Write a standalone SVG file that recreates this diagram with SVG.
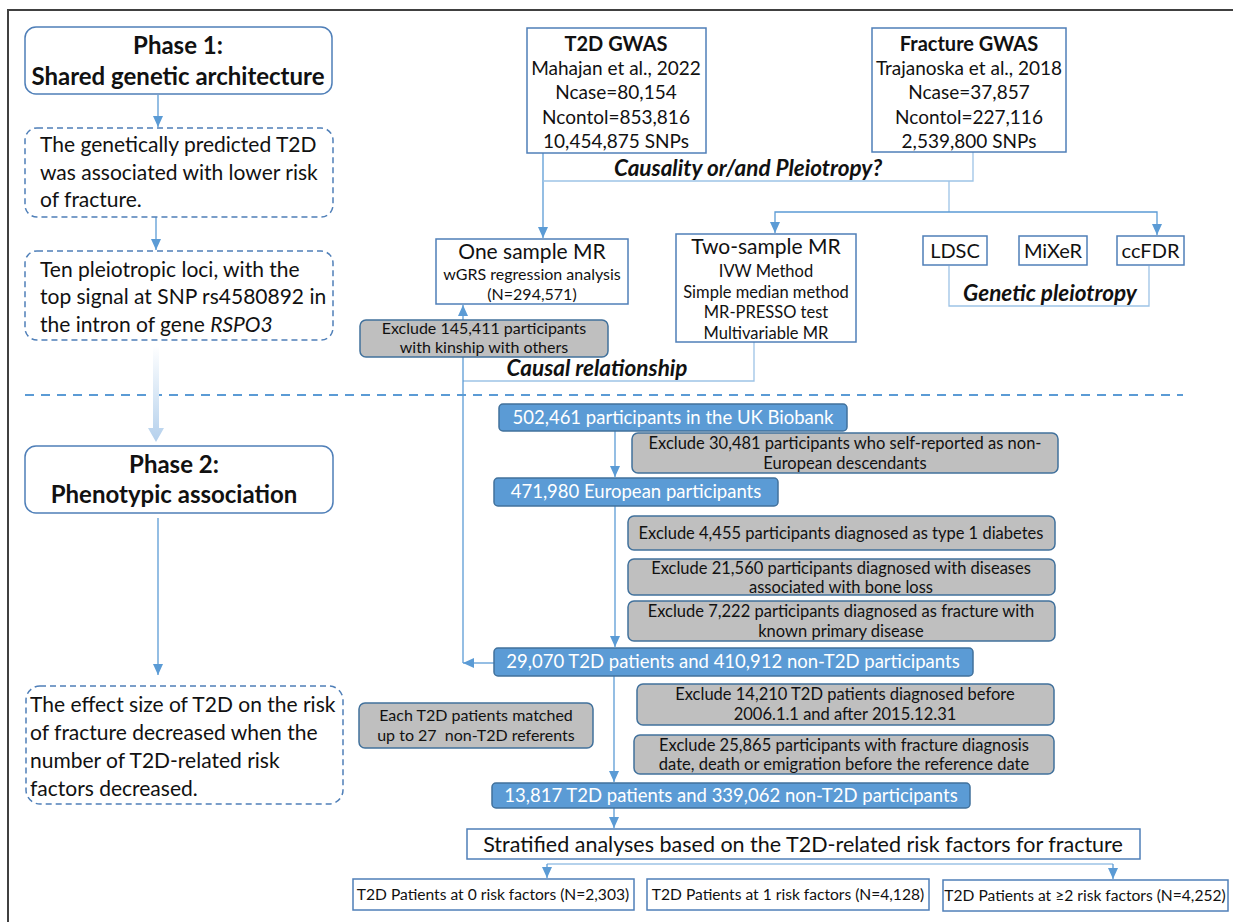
<svg xmlns="http://www.w3.org/2000/svg" width="1233" height="922" viewBox="0 0 1233 922">
<style>
.t{font-family:Lato,"Open Sans","Liberation Sans",sans-serif;fill:#111}
.c{text-anchor:middle}
.b{font-weight:bold}
.bi{font-weight:bold;font-style:italic}
.w{fill:#fff}
.g{font-size:16.5px}
.box{fill:#fff;stroke:#4f7fb8;stroke-width:1.5}
.dbox{fill:#fff;stroke:#4f7fb8;stroke-width:1.5;stroke-dasharray:6,4}
.gray{fill:#bfbfbf;stroke:#41719c;stroke-width:1.5}
.blue{fill:#5b9bd5;stroke:#41719c;stroke-width:1.5}
.conn{fill:none;stroke:#5b9bd5;stroke-width:1.3}
.lt{stroke:#9dc3e6}
</style>
<defs>
<marker id="ah" markerUnits="userSpaceOnUse" markerWidth="12" markerHeight="12" viewBox="0 0 12 12" refX="11" refY="6" orient="auto">
<path d="M0,1 L11,6 L0,11 Z" fill="#5b9bd5"/>
</marker>
<linearGradient id="pg" gradientUnits="userSpaceOnUse" x1="0" y1="346" x2="0" y2="442">
<stop offset="0" stop-color="#ffffff"/>
<stop offset="1" stop-color="#b4d0ec"/>
</linearGradient>
</defs>

<path d="M8,922 V10 H1233" fill="none" stroke="#404040" stroke-width="2"/>
<line x1="25" y1="395" x2="1183" y2="395" stroke="#5b9bd5" stroke-width="2" stroke-dasharray="9,7"/>

<g id="connectors">
<path class="conn" d="M158,95 V127" marker-end="url(#ah)"/>
<path class="conn" d="M156,217 V250" marker-end="url(#ah)"/>
<path d="M153,346 H159 V428 H164 L156,442 L148,428 H153 Z" fill="url(#pg)"/>
<path class="conn" d="M158,518 V675" marker-end="url(#ah)"/>
<path class="conn" d="M543,153 V238" marker-end="url(#ah)"/>
<path class="conn lt" d="M543,181 H973 V152"/>
<path class="conn lt" d="M949,181 V212"/>
<path class="conn" d="M949,212 H775 V233" marker-end="url(#ah)"/>
<path class="conn" d="M949,212 H1157 V235" marker-end="url(#ah)"/>
<path class="conn lt" d="M949,266 V306 H1149 V266"/>
<path class="conn lt" d="M754,342 V381 H463"/>
<path class="conn" d="M463,663 V305" marker-end="url(#ah)"/>
<path class="conn" d="M494,663 H463" marker-end="url(#ah)"/>
<path class="conn" d="M615,431 V477" marker-end="url(#ah)"/>
<path class="conn" d="M615,506 V647" marker-end="url(#ah)"/>
<path class="conn" d="M614,676 V782" marker-end="url(#ah)"/>
<path class="conn" d="M614,808 V828" marker-end="url(#ah)"/>
<path class="conn lt" d="M547,864 H1113"/>
<path class="conn" d="M547,864 V878" marker-end="url(#ah)"/>
<path class="conn" d="M1113,864 V879" marker-end="url(#ah)"/>
</g>

<g id="phase1">
<rect class="box" x="25" y="27" width="307" height="67" rx="11"/>
<text class="t c b" x="178" y="54" font-size="24">Phase 1:</text>
<text class="t c b" x="178" y="85" font-size="24">Shared genetic architecture</text>
</g>
<g id="finding1">
<rect class="dbox" x="25" y="128" width="308" height="89" rx="12"/>
<text class="t" x="40" y="152" font-size="21">The genetically predicted T2D</text>
<text class="t" x="40" y="180" font-size="21">was associated with lower risk</text>
<text class="t" x="40" y="207" font-size="21">of fracture.</text>
</g>
<g id="finding2">
<rect class="dbox" x="25" y="251" width="308" height="89" rx="12"/>
<text class="t" x="40" y="277" font-size="21">Ten pleiotropic loci, with the</text>
<text class="t" x="40" y="304" font-size="21">top signal at SNP rs4580892 in</text>
<text class="t" x="40" y="332" font-size="21">the intron of gene <tspan font-style="italic">RSPO3</tspan></text>
</g>
<g id="phase2">
<rect class="box" x="25" y="446" width="308" height="67" rx="11"/>
<text class="t c b" x="174" y="473" font-size="24">Phase 2:</text>
<text class="t c b" x="174" y="503" font-size="24">Phenotypic association</text>
</g>
<g id="finding3">
<rect class="dbox" x="26" y="686" width="317" height="118" rx="14"/>
<text class="t" x="30" y="712" font-size="21">The effect size of T2D on the risk</text>
<text class="t" x="30" y="740" font-size="21">of fracture decreased when the</text>
<text class="t" x="30" y="768" font-size="21">number of T2D-related risk</text>
<text class="t" x="30" y="796" font-size="21">factors decreased.</text>
</g>

<g id="t2dgwas">
<rect class="box" x="527" y="28" width="179" height="125"/>
<text class="t c b" x="616" y="51" font-size="20">T2D GWAS</text>
<text class="t c" x="616" y="75" font-size="19">Mahajan et al., 2022</text>
<text class="t c" x="616" y="99" font-size="19">Ncase=80,154</text>
<text class="t c" x="616" y="124" font-size="19">Ncontol=853,816</text>
<text class="t c" x="616" y="148" font-size="19">10,454,875 SNPs</text>
</g>
<g id="fracturegwas">
<rect class="box" x="872" y="28" width="194" height="124"/>
<text class="t c b" x="969" y="51" font-size="20">Fracture GWAS</text>
<text class="t c" x="969" y="75" font-size="19">Trajanoska et al., 2018</text>
<text class="t c" x="969" y="99" font-size="19">Ncase=37,857</text>
<text class="t c" x="969" y="124" font-size="19">Ncontol=227,116</text>
<text class="t c" x="969" y="148" font-size="19">2,539,800 SNPs</text>
</g>
<text class="t c bi" x="748" y="176" font-size="22.5">Causality or/and Pleiotropy?</text>

<g id="onesample">
<rect class="box" x="436" y="239" width="192" height="65"/>
<text class="t c" x="532" y="259" font-size="21">One sample MR</text>
<text class="t c" x="532" y="280" font-size="16">wGRS regression analysis</text>
<text class="t c" x="532" y="300" font-size="16">(N=294,571)</text>
</g>
<g id="twosample">
<rect class="box" x="676" y="234" width="180" height="108"/>
<text class="t c" x="766" y="254" font-size="21">Two-sample MR</text>
<text class="t c" x="766" y="277" font-size="16.5">IVW Method</text>
<text class="t c" x="766" y="298" font-size="16.5">Simple median method</text>
<text class="t c" x="766" y="318" font-size="16.5">MR-PRESSO test</text>
<text class="t c" x="766" y="339" font-size="16.5">Multivariable MR</text>
</g>
<g id="ldsc">
<rect class="box" x="923" y="236" width="64" height="29"/>
<text class="t c" x="955" y="258" font-size="20">LDSC</text>
</g>
<g id="mixer">
<rect class="box" x="1019" y="236" width="68" height="29"/>
<text class="t c" x="1053" y="258" font-size="20">MiXeR</text>
</g>
<g id="ccfdr">
<rect class="box" x="1117" y="236" width="67" height="29"/>
<text class="t c" x="1150.5" y="258" font-size="20">ccFDR</text>
</g>
<text class="t c bi" x="1050" y="301" font-size="22.5">Genetic pleiotropy</text>
<text class="t c bi" x="597" y="376" font-size="22.5">Causal relationship</text>

<g id="excl145">
<rect class="gray" x="360" y="320" width="248" height="37" rx="6"/>
<text class="t c" x="484" y="334" font-size="16">Exclude 145,411 participants</text>
<text class="t c" x="484" y="353" font-size="16">with kinship with others</text>
</g>

<g id="ukb">
<rect class="blue" x="499" y="404" width="348" height="27" rx="4"/>
<text class="t c w" x="673" y="424" font-size="18.5">502,461 participants in the UK Biobank</text>
</g>
<g id="excl30">
<rect class="gray" x="632" y="433" width="426" height="40" rx="6"/>
<text class="t c g" x="845" y="449">Exclude 30,481 participants who self-reported as non-</text>
<text class="t c g" x="845" y="469">European descendants</text>
</g>
<g id="euro">
<rect class="blue" x="494" y="478" width="284" height="28" rx="4"/>
<text class="t c w" x="636" y="498" font-size="18.5">471,980 European participants</text>
</g>
<g id="excl4">
<rect class="gray" x="628" y="516" width="427" height="34" rx="6"/>
<text class="t c g" x="841" y="539">Exclude 4,455 participants diagnosed as type 1 diabetes</text>
</g>
<g id="excl21">
<rect class="gray" x="628" y="559" width="427" height="36" rx="6"/>
<text class="t c g" x="841" y="574">Exclude 21,560 participants diagnosed with diseases</text>
<text class="t c g" x="841" y="593">associated with bone loss</text>
</g>
<g id="excl7">
<rect class="gray" x="628" y="601" width="427" height="40" rx="6"/>
<text class="t c g" x="841" y="617">Exclude 7,222 participants diagnosed as fracture with</text>
<text class="t c g" x="841" y="637">known primary disease</text>
</g>
<g id="t2d29">
<rect class="blue" x="494" y="648" width="479" height="28" rx="4"/>
<text class="t c w" x="733" y="668" font-size="18.5">29,070 T2D patients and 410,912 non-T2D participants</text>
</g>
<g id="excl14">
<rect class="gray" x="637" y="684" width="417" height="41" rx="6"/>
<text class="t c g" x="845" y="700">Exclude 14,210 T2D patients diagnosed before</text>
<text class="t c g" x="845" y="720">2006.1.1 and after 2015.12.31</text>
</g>
<g id="excl25">
<rect class="gray" x="634" y="735" width="420" height="39" rx="6"/>
<text class="t c g" x="844" y="751">Exclude 25,865 participants with fracture diagnosis</text>
<text class="t c g" x="844" y="770">date, death or emigration before the reference date</text>
</g>
<g id="matched">
<rect class="gray" x="359" y="703" width="234" height="45" rx="6"/>
<text class="t c" x="476" y="721" font-size="16">Each T2D patients matched</text>
<text class="t c" x="476" y="741" font-size="16" xml:space="preserve">up to 27  non-T2D referents</text>
</g>
<g id="t2d13">
<rect class="blue" x="492" y="783" width="478" height="25" rx="4"/>
<text class="t c w" x="731" y="802" font-size="18.5">13,817 T2D patients and 339,062 non-T2D participants</text>
</g>
<g id="stratified">
<rect class="box" x="467" y="829" width="673" height="30"/>
<text class="t c" x="803" y="852" font-size="21.5">Stratified analyses based on the T2D-related risk factors for fracture</text>
</g>
<g id="rf0">
<rect class="box" x="353" y="879" width="281" height="31"/>
<text class="t c" x="493" y="900" font-size="15.6">T2D Patients at 0 risk factors (N=2,303)</text>
</g>
<g id="rf1">
<rect class="box" x="647" y="879" width="282" height="31"/>
<text class="t c" x="788" y="900" font-size="15.6">T2D Patients at 1 risk factors (N=4,128)</text>
</g>
<g id="rf2">
<rect class="box" x="943" y="880" width="285" height="31"/>
<text class="t c" x="1085" y="901" font-size="15.6">T2D Patients at ≥2 risk factors (N=4,252)</text>
</g>
</svg>
